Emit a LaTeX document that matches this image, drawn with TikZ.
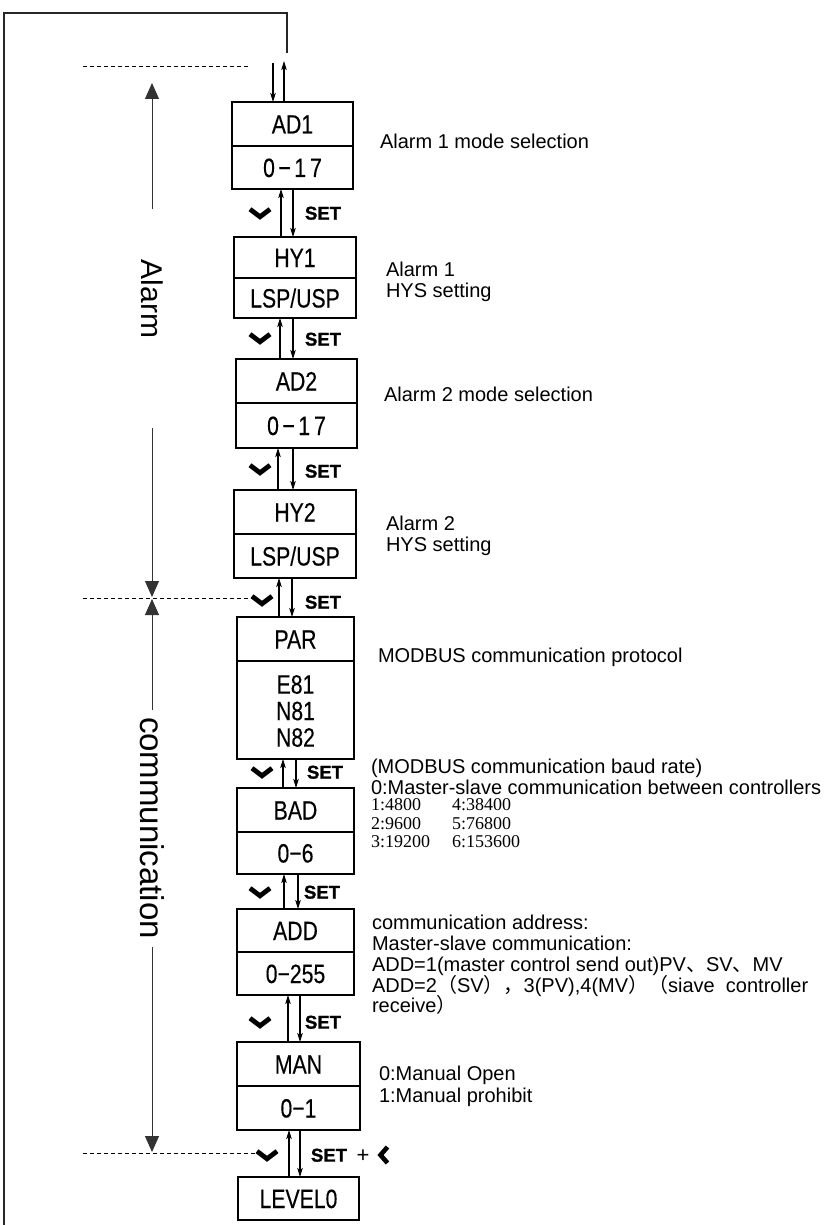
\documentclass[tikz,border=0pt]{standalone}
\usepackage{fontspec}
\setmainfont{Liberation Sans}
\newfontfamily\boxfont[FakeStretch=0.8,FakeBold=0.25]{Liberation Sans}
\newfontfamily\setfont[FakeBold=1.2]{Liberation Sans Bold}
\newfontfamily\serifnum{Liberation Serif}
\newfontfamily\cjk{Noto Sans CJK SC}
\usetikzlibrary{arrows.meta,calc}
\begin{document}
\begin{tikzpicture}[x=1pt,y=-1pt,
  every node/.style={inner sep=0pt,outer sep=0pt},
  boxpart/.style 2 args={draw,line width=1.7pt,minimum width=#1,minimum height=#2,anchor=north west,
    font=\boxfont\fontsize{26.5}{27}\selectfont,text height=19pt,text depth=0pt},
  conn/.style={line width=1.1pt,-{Stealth[length=9pt,width=5.5pt,inset=2pt]}},
  setl/.style={anchor=west,font=\setfont\fontsize{18.5}{18.5}\selectfont,text height=13.2pt,text depth=0pt},
  desc/.style={anchor=base west,font=\fontsize{20}{21}\selectfont},
  rate/.style={anchor=base west,font=\serifnum\fontsize{18}{18}\selectfont},
  side/.style={rotate=-90,font=\fontsize{#1}{#1}\selectfont},
  bigarr/.style={line width=1pt,draw=black!80,-{Triangle[length=16pt,width=14pt]}},
  dashln/.style={line width=1pt,dash pattern=on 4pt off 3pt},
  chev/.pic={\draw[line width=4.8pt,line join=miter,line cap=butt] (-10,-3.8) -- (0,3.8) -- (10,-3.8);},
  chevl/.pic={\draw[line width=4.6pt,line join=miter,line cap=butt] (3.5,-8) -- (-3.5,0) -- (3.5,8);}
]
\useasboundingbox (0,0) rectangle (835,1225);

% outer loop
\coordinate (loopS) at (287,53);
\coordinate (loopA) at (287,13);
\coordinate (loopB) at (4,13);
\coordinate (loopE) at (4,1226);
\draw[line width=1.5pt,draw=black!85] (loopS) -- (loopA) -- (loopB) -- (loopE);

% boxes
\node[boxpart={121}{44}] (ad1t) at (232,102) {AD1};
\node[boxpart={121}{43}] (ad1b) at (232,146) {0\kern3.5pt−\kern3.5pt1\kern4pt7};
\node[boxpart={122}{41}] (hy1t) at (234,237) {HY1};
\node[boxpart={122}{40}] (hy1b) at (234,278) {LSP/USP};
\node[boxpart={121}{44}] (ad2t) at (236,359) {AD2};
\node[boxpart={121}{45}] (ad2b) at (236,403) {0\kern3.5pt−\kern3.5pt1\kern4pt7};
\node[boxpart={122}{44}] (hy2t) at (234,490) {HY2};
\node[boxpart={122}{44}] (hy2b) at (234,534) {LSP/USP};
\node[boxpart={117}{44}] (part) at (237,617) {PAR};
\node[boxpart={117}{98}] (parb) at (237,661) {};
\node[font=\boxfont\fontsize{26.5}{26.5}\selectfont,align=center] (partxt) at ([yshift=-1pt]parb.center) {E81\\N81\\N82};
\node[boxpart={117}{44}] (badt) at (237,788) {BAD};
\node[boxpart={117}{42}] (badb) at (237,832) {0−6};
\node[boxpart={117}{43}] (addt) at (237,909) {ADD};
\node[boxpart={117}{43}] (addb) at (237,952) {0−255};
\node[boxpart={123}{44}] (mant) at (237,1042) {MAN};
\node[boxpart={123}{44}] (manb) at (237,1086) {0−1};
\node[boxpart={121}{43}] (lvl) at (238,1177) {LEVEL0};

% top arrows
\coordinate (topin) at (273,63);
\coordinate (topout) at (284,61);
\draw[conn] (topin) -- ([xshift=-19.5pt]ad1t.north);
\draw[conn] ([xshift=-8.5pt]ad1t.north) -- (topout);

% arrows between boxes
\draw[conn] ([xshift=-14pt]hy1t.north) -- ([xshift=-11.5pt]ad1b.south);
\draw[conn] ([xshift=0.5pt]ad1b.south) -- ([xshift=-2pt]hy1t.north);
\draw[conn] ([xshift=-16.5pt]ad2t.north) -- ([xshift=-15pt]hy1b.south);
\draw[conn] ([xshift=-2pt]hy1b.south) -- ([xshift=-3.5pt]ad2t.north);
\draw[conn] ([xshift=-17pt]hy2t.north) -- ([xshift=-18.5pt]ad2b.south);
\draw[conn] ([xshift=-3.5pt]ad2b.south) -- ([xshift=-2pt]hy2t.north);
\draw[conn] ([xshift=-16.5pt]part.north) -- ([xshift=-16pt]hy2b.south);
\draw[conn] ([xshift=-3pt]hy2b.south) -- ([xshift=-3.5pt]part.north);
\draw[conn] ([xshift=-12.5pt]badt.north) -- ([xshift=-12.5pt]parb.south);
\draw[conn] ([xshift=0.5pt]parb.south) -- ([xshift=0.5pt]badt.north);
\draw[conn] ([xshift=-11.5pt]addt.north) -- ([xshift=-11.5pt]badb.south);
\draw[conn] ([xshift=2.5pt]badb.south) -- ([xshift=2.5pt]addt.north);
\draw[conn] ([xshift=-10.5pt]mant.north) -- ([xshift=-7.5pt]addb.south);
\draw[conn] ([xshift=4.5pt]addb.south) -- ([xshift=1.5pt]mant.north);
\draw[conn] ([xshift=-9.5pt]lvl.north) -- ([xshift=-9.5pt]manb.south);
\draw[conn] ([xshift=1.5pt]manb.south) -- ([xshift=1.5pt]lvl.north);

% dashed separators
\draw[dashln] (83,67) -- (250,67);
\draw[dashln] (83,598) -- (255,598);
\draw[dashln] (83,1153) -- (265,1153);

% chevrons and SET labels
\pic at (260,213) {chev};
\node[setl] (set1) at (305,213) {SET};
\pic at (260,338) {chev};
\node[setl] (set2) at (305,339) {SET};
\pic at (260,469) {chev};
\node[setl] (set3) at (305,471) {SET};
\pic at (262,600) {chev};
\node[setl] (set4) at (305,602) {SET};
\pic at (262,772) {chev};
\node[setl] (set5) at (307,772) {SET};
\pic at (260,892) {chev};
\node[setl] (set6) at (304,892) {SET};
\pic at (260,1022) {chev};
\node[setl] (set7) at (305,1022) {SET};
\pic at (267,1155) {chev};
\node[setl] (set8) at (311,1155) {SET};
\node[anchor=center,font=\fontsize{22}{22}\selectfont] (plus) at (363,1156) {+};
\pic at (384,1155) {chevl};

% side labels
\coordinate (alA) at (152,209);
\coordinate (alB) at (152,83);
\coordinate (alC) at (152,428);
\coordinate (alD) at (152,597);
\node[side=30] (alarm) at (152,299) {Alarm};
\draw[bigarr] (alA) -- (alB);
\draw[bigarr] (alC) -- (alD);
\coordinate (coA) at (152,710);
\coordinate (coB) at (152,599);
\coordinate (coC) at (152,947);
\coordinate (coD) at (152,1152);
\node[side=33] (comm) at (152,828) {communication};
\draw[bigarr] (coA) -- (coB);
\draw[bigarr] (coC) -- (coD);

% descriptions
\node[desc] (d1) at (380,149) {Alarm 1 mode selection};
\node[desc] (d2a) at (386,276) {Alarm 1};
\node[desc] (d2b) at (386,297) {HYS setting};
\node[desc] (d3) at (384,401) {Alarm 2 mode selection};
\node[desc] (d4a) at (386,530) {Alarm 2};
\node[desc] (d4b) at (386,551) {HYS setting};
\node[desc] (d5) at (378,662) {MODBUS communication protocol};
\node[desc] (d6a) at (371,773) {(MODBUS communication baud rate)};
\node[desc] (d6b) at (371,794) {0:Master-slave communication between controllers};
\node[rate] (r1) at (371,810) {1:4800};
\node[rate] (r4) at (452,810) {4:38400};
\node[rate] (r2) at (371,829) {2:9600};
\node[rate] (r5) at (452,829) {5:76800};
\node[rate] (r3) at (371,847) {3:19200};
\node[rate] (r6) at (452,847) {6:153600};
\node[desc] (d7a) at (372,929) {communication address:};
\node[desc] (d7b) at (372,950) {Master-slave communication:};
\node[desc] (d7c) at (372,971) {ADD=1(master control send out)PV{\cjk 、}SV{\cjk 、}MV};
\node[desc] (d7d) at (372,992) {ADD=2{\cjk （}SV{\cjk ）}{\cjk ，}3(PV),4(MV{\cjk ）}{\cjk （}siave\ \ controller};
\node[desc] (d7e) at (372,1012) {receive{\cjk ）}};
\node[desc] (d8a) at (379,1080) {0:Manual Open};
\node[desc] (d8b) at (379,1102) {1:Manual prohibit};
\end{tikzpicture}
\end{document}
